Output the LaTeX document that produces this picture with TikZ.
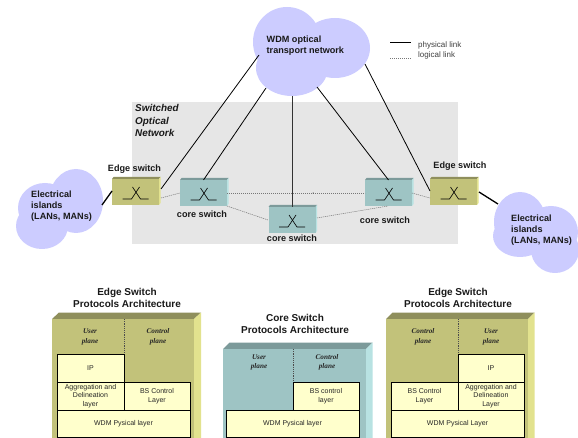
\documentclass[tikz,border=0pt]{standalone}
\usepackage{fontspec}
\setmainfont{Liberation Sans}
\newfontfamily\planefont{Liberation Serif}
\definecolor{cloudc}{HTML}{CCCCFF}
\definecolor{panelc}{HTML}{E6E6E6}
\definecolor{edgef}{HTML}{C2C27A}
\definecolor{edget}{HTML}{8F8F5C}
\definecolor{edges}{HTML}{E2E28E}
\definecolor{coref}{HTML}{9EC4C4}
\definecolor{coret}{HTML}{7C9A9A}
\definecolor{cores}{HTML}{B8E2E2}
\definecolor{layerc}{HTML}{FFFFCC}
\definecolor{logicc}{HTML}{777777}
\tikzset{
  x=1pt,y=-1pt,
  cloudpart/.style={fill=cloudc,draw=none},
  swface/.style={minimum width=47pt,minimum height=26pt,inner sep=0pt,outer sep=0pt,fill=#1},
  phys/.style={draw=black,line width=0.8pt},
  physthick/.style={draw=black,line width=1.3pt},
  logic/.style={draw=logicc,line width=0.5pt,dash pattern=on 1.2pt off 0.8pt},
  sym/.style={draw=black,line width=0.6pt},
  boldlabel/.style={font=\fontsize{9.1}{11}\selectfont\bfseries,inner sep=0pt,text=black!90},
  cloudlabel/.style={boldlabel,align=left,anchor=west},
  title/.style={font=\fontsize{10}{12}\selectfont\bfseries,inner sep=0pt,align=center,text=black!90},
  legendtext/.style={font=\fontsize{8}{10}\selectfont,inner sep=0pt,anchor=west,text=black!75},
  planetext/.style={font=\fontsize{7.2}{9.5}\selectfont\planefont\bfseries\itshape,inner sep=0pt,align=center,text=black!85},
  layer/.style={draw=black,line width=0.8pt,fill=layerc,inner sep=0pt,outer sep=0pt,align=center,font=\fontsize{7}{8.6}\selectfont,text=black!85},
  planeline/.style={draw=black!70,line width=0.5pt,dash pattern=on 1.2pt off 1pt},
}
\newcommand{\swbox}[6]{% name, cx, cy, front, top, side
  \fill[#5] (#2-23.5,#3-13) -- ++(1.5,-2) -- ++(47,0) -- ++(-1.5,2) -- cycle;
  \fill[#6] (#2+23.5,#3-13) -- ++(1.5,-2) -- ++(0,26) -- ++(-1.5,2) -- cycle;
  \node[swface=#4] (#1) at (#2,#3) {};
  \draw[sym] (#2-13,#3+7) -- (#2-4,#3+7) -- (#2+4,#3-5);
  \draw[sym] (#2-3,#3-5) -- (#2+5,#3+7) -- (#2+13,#3+7);
}
\newcommand{\stackbody}[7]{% x0, x1, y0, dx, front, top, side
  \fill[#6] (#1,#3) -- (#1+#4,#3-6.5) -- (#2+#4,#3-6.5) -- (#2,#3) -- cycle;
  \fill[#7] (#2,#3) -- (#2+#4,#3-6.5) -- (#2+#4,438) -- (#2,438) -- cycle;
  \fill[#5] (#1,#3) rectangle (#2,438);
}
\begin{document}
\begin{tikzpicture}
\useasboundingbox (0,0) rectangle (578,438);
\fill[white] (0,0) rectangle (578,438);
% panel
\fill[panelc] (132,102) rectangle (458,244);
% clouds
\fill[cloudpart] (287,42) ellipse [x radius=34,y radius=35];
\fill[cloudpart] (292,68) ellipse [x radius=36,y radius=28];
\fill[cloudpart] (335,48) ellipse [x radius=35,y radius=30];
\fill[cloudpart] (76,201) ellipse [x radius=27,y radius=32];
\fill[cloudpart] (45,208) ellipse [x radius=27,y radius=25];
\fill[cloudpart] (42,226) ellipse [x radius=26,y radius=23];
\fill[cloudpart] (520,222) ellipse [x radius=26,y radius=30];
\fill[cloudpart] (551,232) ellipse [x radius=27,y radius=26];
\fill[cloudpart] (555,250) ellipse [x radius=24,y radius=23];
\fill[cloudpart] (520,236) ellipse [x radius=27,y radius=21];
% switches
\swbox{es1}{135.5}{192}{edgef}{edget}{edges}
\swbox{cs1}{203.5}{193}{coref}{coret}{cores}
\swbox{cs2}{292}{220}{coref}{coret}{cores}
\swbox{cs3}{388.5}{193}{coref}{coret}{cores}
\swbox{es2}{453.5}{192}{edgef}{edget}{edges}
% connector end points
\coordinate (wdmA) at (259,55);
\coordinate (wdmB) at (266,88);
\coordinate (wdmC) at (292,96);
\coordinate (wdmD) at (317,87);
\coordinate (wdmE) at (365,64);
\coordinate (islL) at (102,205);
\coordinate (islR) at (498,204);
\coordinate (es1up) at (161,189);
\coordinate (es1lg) at (161,198);
\coordinate (es1in) at (112,191);
\coordinate (es2in) at (430,191);
\coordinate (es2lg) at (430,198);
\coordinate (es2out) at (479,192);
\coordinate (cs2lgL) at (268,220);
\coordinate (cs2lgR) at (317,218);
\coordinate (cs3lgB) at (388,206);
\coordinate (mark) at (313,193);
% links
\draw[physthick] (islL) -- (es1in);
\draw[physthick] (es2out) -- (islR);
\draw[phys] (es1up) -- (wdmA);
\draw[phys] (cs1.north) -- (wdmB);
\draw[phys,line width=1pt,draw=black!80] (cs2.north) -- (wdmC);
\draw[phys] (cs3.north) -- (wdmD);
\draw[phys] (es2in) -- (wdmE);
\draw[logic] (es1lg) -- (cs1.west);
\draw[logic] (cs1.east) -- (cs3.west);
\draw[logic] (cs1.south east) -- (cs2lgL);
\draw[logic] (cs2lgR) -- (cs3lgB);
\draw[logic] (cs3.east) -- (es2lg);
\fill[black] (mark) circle [radius=0.5];
% legend
\coordinate (lgA) at (390,42); \coordinate (lgB) at (411,42);
\coordinate (lgC) at (390,58); \coordinate (lgD) at (411,58);
\draw[phys] (lgA) -- (lgB);
\draw[logic] (lgC) -- (lgD);
\node[legendtext] (lgP) at (418,45) {physical link};
\node[legendtext] (lgL) at (418,55) {logical link};
% labels
\node[cloudlabel] (wdm) at (266.5,45.5) {WDM optical\\transport network};
\node[cloudlabel,font=\fontsize{9.9}{12.5}\selectfont\bfseries\itshape] (son) at (135,120.5) {Switched\\Optical\\Network};
\node[cloudlabel] (islandL) at (31,206) {Electrical\\islands\\(LANs, MANs)};
\node[cloudlabel] (islandR) at (511,230) {Electrical\\islands\\(LANs, MANs)};
\node[boldlabel] (lEs1) at (134.5,169) {Edge switch};
\node[boldlabel] (lEs2) at (460,166) {Edge switch};
\node[boldlabel] (lCs1) at (202,214) {core switch};
\node[boldlabel] (lCs2) at (292,238.5) {core switch};
\node[boldlabel] (lCs3) at (385,220) {core switch};
% left stack
\node[title] (tL) at (127,298) {Edge Switch\\Protocols Architecture};
\stackbody{52}{194}{319}{7}{edgef}{edget}{edges}
\coordinate (dLa) at (124,319); \coordinate (dLb) at (124,354);
\draw[planeline] (dLa) -- (dLb);
\node[planetext] (pL1) at (90,337) {User\\plane};
\node[planetext] (pL2) at (158,337) {Control\\plane};
\node[layer,minimum width=67pt,minimum height=28pt] (ipL) at (90.5,368) {IP};
\node[layer,minimum width=67pt,minimum height=28pt] (agL) at (90.5,396) {Aggregation and\\Delineation\\layer};
\node[layer,minimum width=66pt,minimum height=28pt] (bsL) at (157,396) {BS Control\\Layer};
\node[layer,minimum width=133pt,minimum height=27pt] (wdmL) at (123.5,423.5) {WDM Pysical layer};
% middle stack
\node[title] (tM) at (295,324) {Core Switch\\Protocols Architecture};
\stackbody{223}{366}{349}{6.5}{coref}{coret}{cores}
\coordinate (dMa) at (293,349); \coordinate (dMb) at (293,382);
\draw[planeline] (dMa) -- (dMb);
\node[planetext] (pM1) at (259,362.5) {User\\plane};
\node[planetext] (pM2) at (327,362.5) {Control\\plane};
\node[layer,minimum width=66pt,minimum height=28pt] (bsM) at (326,396) {BS control\\layer};
\node[layer,minimum width=133pt,minimum height=27pt] (wdmM) at (292.5,423.5) {WDM Pysical layer};
% right stack
\node[title] (tR) at (458,298) {Edge Switch\\Protocols Architecture};
\stackbody{386}{528}{319}{6.5}{edgef}{edget}{edges}
\coordinate (dRa) at (458,319); \coordinate (dRb) at (458,354);
\draw[planeline] (dRa) -- (dRb);
\node[planetext] (pR1) at (423,337) {Control\\plane};
\node[planetext] (pR2) at (491,337) {User\\plane};
\node[layer,minimum width=66pt,minimum height=28pt] (ipR) at (491,368) {IP};
\node[layer,minimum width=66pt,minimum height=28pt] (agR) at (491,396) {Aggregation and\\Delineation\\Layer};
\node[layer,minimum width=67pt,minimum height=28pt] (bsR) at (424.5,396) {BS Control\\Layer};
\node[layer,minimum width=133pt,minimum height=27pt] (wdmR) at (457.5,423.5) {WDM Pysical Layer};
\end{tikzpicture}
\end{document}
